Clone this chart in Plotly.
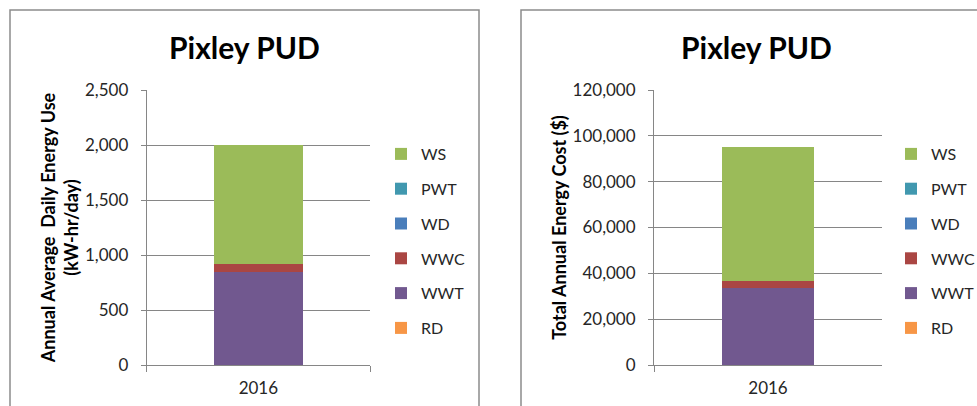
import plotly.graph_objects as go

# Pixley PUD, 2016: energy use and energy cost by process
years = ["2016"]
processes = ["RD", "WWT", "WWC", "WD", "PWT", "WS"]
colors = {
    "RD": "#F79646",
    "WWT": "#71588F",
    "WWC": "#AA4643",
    "WD": "#4A7EBB",
    "PWT": "#4198AF",
    "WS": "#9BBB59",
}
energy_use = {  # kW-hr/day
    "RD": [0],
    "WWT": [849],
    "WWC": [66],
    "WD": [0],
    "PWT": [0],
    "WS": [1085],
}
energy_cost = {  # $
    "RD": [0],
    "WWT": [33500],
    "WWC": [3000],
    "WD": [0],
    "PWT": [0],
    "WS": [58800],
}
use_ticks = [0, 500, 1000, 1500, 2000, 2500]
cost_ticks = [0, 20000, 40000, 60000, 80000, 100000, 120000]

W, H = 977, 406
FONT = "Lato"
GRID = "#868686"
TXT = "#262626"


def px_x(p):
    return p / W


def px_y(p):
    return 1 - p / H


fig = go.Figure()

# first trace sits at the bottom of the stack; legend lists WS first
for i, name in enumerate(processes):
    fig.add_trace(go.Bar(
        x=years, y=energy_use[name], name=name,
        marker=dict(color=colors[name], line=dict(width=0)),
        xaxis="x", yaxis="y", legend="legend", legendgroup="a" + name,
        legendrank=100 - i,
    ))
for i, name in enumerate(processes):
    fig.add_trace(go.Bar(
        x=years, y=energy_cost[name], name=name,
        marker=dict(color=colors[name], line=dict(width=0)),
        xaxis="x2", yaxis="y2", legend="legend2", legendgroup="b" + name,
        legendrank=100 - i,
    ))

axis_common = dict(
    showline=True, linecolor=GRID, linewidth=1,
    tickfont=dict(family=FONT, size=17, color=TXT),
)
title_font = dict(family=FONT, size=18, color="black", weight="bold")
legend_common = dict(
    yanchor="middle", xanchor="left",
    traceorder="grouped", tracegroupgap=11,
    font=dict(family=FONT, size=16, color=TXT),
    bgcolor="rgba(0,0,0,0)", itemwidth=30,
)

y_dom = [px_y(365), px_y(90)]

fig.update_layout(
    width=W, height=H,
    margin=dict(l=0, r=0, t=0, b=0, autoexpand=False),
    paper_bgcolor="white", plot_bgcolor="white",
    barmode="stack", bargap=0.6,
    font=dict(family=FONT, color=TXT),
    xaxis=dict(
        domain=[px_x(146.7), px_x(370)], anchor="y",
        ticks="outside", tickson="boundaries", ticklen=6, tickcolor=GRID,
        ticklabelstandoff=8,
        **axis_common,
    ),
    yaxis=dict(
        domain=y_dom, anchor="x", range=[0, 2500],
        tickvals=use_ticks, tickformat=",d",
        showgrid=True, gridcolor=GRID, zeroline=False,
        ticks="outside", ticklen=5, tickcolor=GRID,
        ticklabelstandoff=9,
        title=dict(
            text="Annual Average  Daily Energy Use<br>(kW-hr/day)",
            font=title_font, standoff=1,
        ),
        **axis_common,
    ),
    xaxis2=dict(
        domain=[px_x(654), px_x(882)], anchor="y2",
        ticks="outside", tickson="boundaries", ticklen=6, tickcolor=GRID,
        ticklabelstandoff=8,
        **axis_common,
    ),
    yaxis2=dict(
        domain=y_dom, anchor="x2", range=[0, 120000],
        tickvals=cost_ticks, tickformat=",d",
        showgrid=True, gridcolor=GRID, zeroline=False,
        ticks="outside", ticklen=5, tickcolor=GRID,
        ticklabelstandoff=9,
        title=dict(
            text="Total Annual Energy Cost ($)",
            font=title_font, standoff=1,
        ),
        **axis_common,
    ),
    legend=dict(x=px_x(381), y=px_y(241), **legend_common),
    legend2=dict(x=px_x(891), y=px_y(241), **legend_common),
    annotations=[
        dict(text="<b>Pixley PUD</b>", x=px_x(245), y=px_y(47),
             xref="paper", yref="paper", showarrow=False,
             xanchor="center", yanchor="middle",
             font=dict(family=FONT, size=30, color="black")),
        dict(text="<b>Pixley PUD</b>", x=px_x(756), y=px_y(47),
             xref="paper", yref="paper", showarrow=False,
             xanchor="center", yanchor="middle",
             font=dict(family=FONT, size=30, color="black")),
    ],
    shapes=[
        dict(type="rect", xref="paper", yref="paper",
             x0=px_x(10), x1=px_x(479), y0=px_y(420), y1=px_y(10),
             line=dict(color="#8C8C8C", width=1.5)),
        dict(type="rect", xref="paper", yref="paper",
             x0=px_x(521), x1=px_x(990), y0=px_y(420), y1=px_y(10),
             line=dict(color="#8C8C8C", width=1.5)),
    ],
)

fig.write_html("out.html")
